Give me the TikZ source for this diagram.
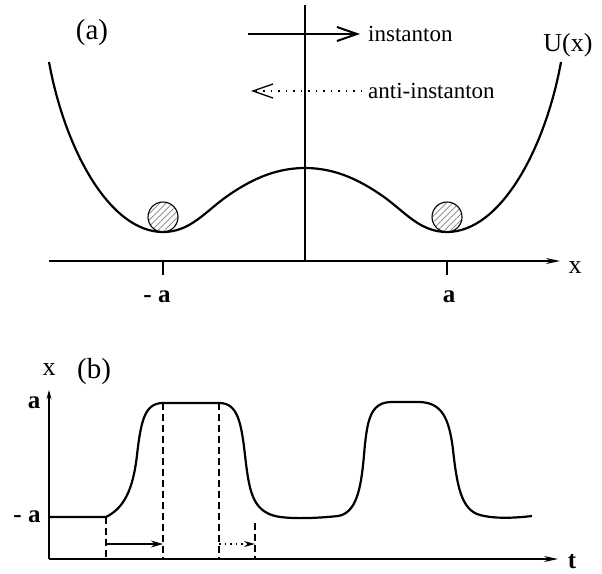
\documentclass[tikz,border=0pt]{standalone}
\usepackage{fontspec}
\setmainfont{Liberation Serif}
\usetikzlibrary{arrows.meta,patterns.meta}
\begin{document}
\begin{tikzpicture}[x=1pt,y=-1pt,
  lab/.style={font=\fontsize{26}{28}\selectfont, inner sep=0pt},
  plab/.style={font=\fontsize{29}{31}\selectfont, inner sep=0pt},
  blab/.style={font=\fontsize{25}{27}\selectfont\bfseries, inner sep=0pt},
  smalllab/.style={font=\fontsize{23}{25}\selectfont, inner sep=0pt, anchor=base west},
  axis/.style={line width=1.1pt},
  curve/.style={line width=2.2pt, line join=round},
  vdash/.style={line width=1.2pt, dash pattern=on 7pt off 4pt},
  ball/.style={circle, draw, line width=1.1pt, minimum size=30pt, inner sep=0pt,
    pattern={Lines[angle=45,distance=4.5pt,line width=0.7pt]}, pattern color=gray},
]
\useasboundingbox (0,0) rectangle (602,573);
% ---------- panel (a) ----------
\coordinate (vt) at (305,5);
\coordinate (vb) at (305,261);
\draw[axis] (vb) -- (vt);
\coordinate (hl) at (49,261);
\coordinate (hr) at (560,261);
\draw[axis,-{Stealth[length=14pt,width=6pt]}] (hl) -- (hr);
\node[lab] (xa) at (575,268) {x};
\coordinate (t1a) at (163,261); \coordinate (t1b) at (163,275);
\coordinate (t2a) at (447,261); \coordinate (t2b) at (447,275);
\draw[axis] (t1a) -- (t1b);
\draw[axis] (t2a) -- (t2b);
\node[blab] (ma) at (157,297) {- a};
\node[blab] (pa) at (449,297) {a};
\draw[curve] (49,62) .. controls (65,150) and (110,232) .. (163,232)
  .. controls (190,232) and (205,212) .. (226,197)
  .. controls (250,180) and (275,168) .. (305,168)
  .. controls (335,168) and (360,180) .. (384,197)
  .. controls (405,212) and (420,232) .. (447,232)
  .. controls (500,232) and (545,150) .. (561,62);
\node[ball] (b1) at (163,217) {};
\node[ball] (b2) at (447,217) {};
\node[plab] (la) at (92,33) {(a)};
\node[lab] (ux) at (568,45) {U(x)};
\coordinate (i1) at (248,34);
\coordinate (i2) at (360,34);
\draw[line width=2pt,-{Straight Barb[length=20pt,width=14pt]}] (i1) -- (i2);
\node[smalllab] (inst) at (368,41) {instanton};
\coordinate (a1) at (362,91);
\coordinate (a2) at (251,91);
\draw[line width=1.3pt,dash pattern=on 1.5pt off 6pt,-{Straight Barb[length=20pt,width=14pt]}] (a1) -- (a2);
\node[smalllab] (anti) at (368,98) {anti-instanton};
% ---------- panel (b) ----------
\coordinate (o) at (49,559);
\coordinate (yt) at (49,390);
\coordinate (xt) at (558,559);
\draw[axis,-{Stealth[length=9pt,width=5pt]}] (o) -- (yt);
\draw[axis,-{Stealth[length=14pt,width=6pt]}] (o) -- (xt);
\node[lab] (xb) at (49,370) {x};
\node[plab] (lb) at (94,372) {(b)};
\node[blab] (ab) at (34,403) {a};
\node[blab] (mab) at (27,517) {- a};
\node[blab, anchor=base] (tb) at (572,568) {t};
\draw[curve] (49,517) -- (106,517)
  .. controls (124,508) and (133,490) .. (137,455)
  .. controls (141,420) and (145,403) .. (163,403)
  -- (219,403)
  .. controls (237,403) and (241,420) .. (245,455)
  .. controls (249,490) and (252,510) .. (275,516)
  .. controls (290,519.5) and (320,518) .. (338,516)
  .. controls (356,513) and (361,490) .. (364,455)
  .. controls (367,420) and (370,402) .. (392,402)
  -- (418,402)
  .. controls (440,402) and (449,415) .. (453,450)
  .. controls (457,485) and (461,510) .. (480,515)
  .. controls (495,519) and (515,518) .. (532,516);
\coordinate (d1t) at (106,517); \coordinate (d1b) at (106,559);
\coordinate (d2t) at (163,403); \coordinate (d2b) at (163,559);
\coordinate (d3t) at (219,403); \coordinate (d3b) at (219,559);
\coordinate (d4t) at (255,523); \coordinate (d4b) at (255,559);
\draw[vdash] (d1t) -- (d1b);
\draw[vdash] (d2t) -- (d2b);
\draw[vdash] (d3t) -- (d3b);
\draw[vdash] (d4t) -- (d4b);
\coordinate (s1) at (106,544); \coordinate (s2) at (163,544);
\coordinate (s3) at (219,544); \coordinate (s4) at (255,544);
\draw[line width=1.6pt,-{Stealth[length=12pt,width=7pt]}] (s1) -- (s2);
\draw[line width=1.3pt,dash pattern=on 1.5pt off 4pt,-{Stealth[open,length=11pt,width=6pt]}] (s3) -- (s4);
\end{tikzpicture}
\end{document}
